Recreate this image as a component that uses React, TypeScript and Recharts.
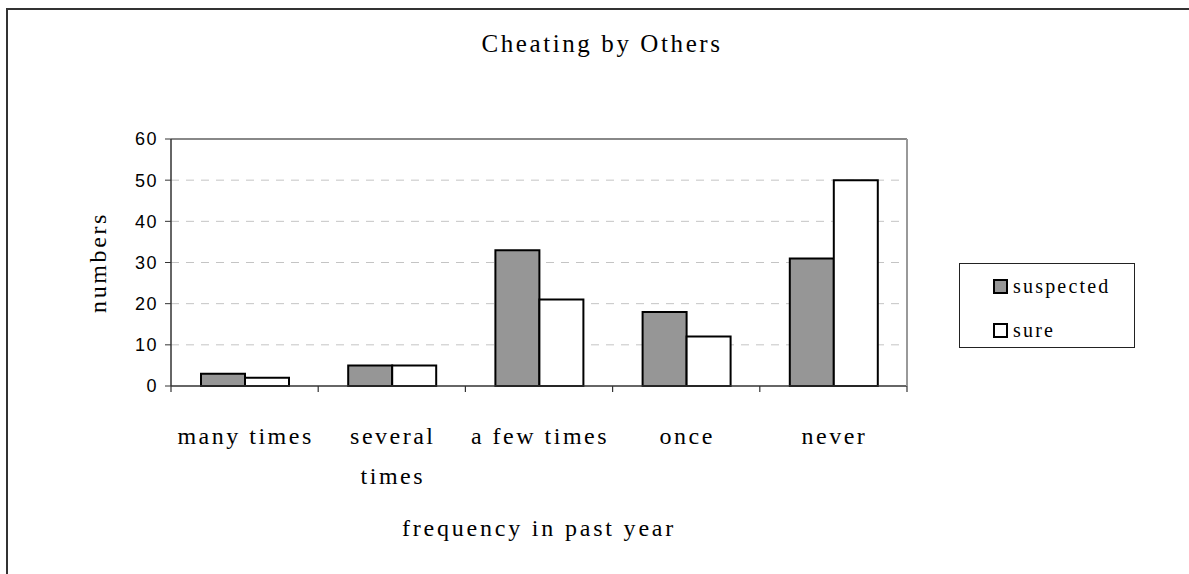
import {
  Bar,
  BarChart,
  CartesianGrid,
  Legend,
  ReferenceLine,
  XAxis,
  YAxis,
} from "recharts";

// Datos.
const CATEGORIES = ["many times", "several\ntimes", "a few times", "once", "never"];
const SERIES = ["suspected", "sure"];
const SUSPECTED = [3, 5, 33, 18, 31];
const SURE = [2, 5, 21, 12, 50];
const Y_TICKS = [0, 10, 20, 30, 40, 50, 60];

const data = CATEGORIES.map((name, i) => ({
  name,
  suspected: SUSPECTED[i],
  sure: SURE[i],
}));

const SERIF = "'Liberation Serif', 'Times New Roman', serif";
const SANS = "'Liberation Sans', Arial, sans-serif";

// Etiqueta de categoria con salto de linea y marcas en los limites de cada categoria (estilo Excel).
function CategoryTick({ x, y, payload, index, visibleTicksCount }: any) {
  const lines = String(payload.value).split("\n");
  const half = payload.offset || 0;
  const isLast = index === visibleTicksCount - 1;
  return (
    <g>
      <line x1={x - half} x2={x - half} y1={y} y2={y + 6} stroke="#333" strokeWidth={1.2} />
      {isLast && (
        <line x1={x + half} x2={x + half} y1={y} y2={y + 6} stroke="#333" strokeWidth={1.2} />
      )}
      <text
        x={x}
        y={y}
        textAnchor="middle"
        fill="#000"
        style={{ fontFamily: SERIF, fontSize: 24, letterSpacing: 2.5 }}
      >
        {lines.map((line, i) => (
          <tspan key={i} x={x + 1} dy={i === 0 ? 58 : 40}>
            {line}
          </tspan>
        ))}
      </text>
    </g>
  );
}

function LegendBox({ payload }: any) {
  // la leyenda de recharts ordena por nombre; se respeta el orden de las series
  const items = [...(payload || [])].sort(
    (a: any, b: any) => SERIES.indexOf(a.dataKey) - SERIES.indexOf(b.dataKey)
  );
  return (
    <div
      style={{
        border: "1px solid #222",
        width: 176,
        height: 85,
        boxSizing: "border-box",
        paddingTop: 0,
        paddingLeft: 33,
        background: "#fff",
      }}
    >
      {items.map((item: any) => (
        <div key={item.value} style={{ display: "flex", alignItems: "center", height: 44 }}>
          <span
            style={{
              display: "inline-block",
              width: 11,
              height: 11,
              border: "2px solid #000",
              background: item.payload.fill,
              marginRight: 5,
            }}
          />
          <span style={{ fontFamily: SERIF, fontSize: 20, letterSpacing: 2.2, color: "#000" }}>
            {item.value}
          </span>
        </div>
      ))}
    </div>
  );
}

export default function App() {
  return (
    <div
      style={{
        position: "fixed",
        left: 0,
        top: 0,
        width: 1189,
        height: 574,
        overflow: "hidden",
        background: "#fff",
      }}
    >
      {/* marco exterior del grafico, se sale por la derecha y abajo */}
      <div
        style={{
          position: "absolute",
          left: 6,
          top: 8,
          width: 1300,
          height: 700,
          border: "2px solid #333",
        }}
      />
      <div
        style={{
          position: "absolute",
          left: 0,
          top: 30,
          width: 1204,
          textAlign: "center",
          fontFamily: SERIF,
          fontSize: 25,
          letterSpacing: 2.6,
          lineHeight: "28px",
          color: "#000",
        }}
      >
        Cheating by Others
      </div>
      <div style={{ position: "absolute", left: 0, top: 0 }}>
        <BarChart
          width={1189}
          height={574}
          data={data}
          margin={{ top: 139, right: 281, bottom: 102, left: 91 }}
          barCategoryGap={30}
          barGap={0}
        >
          <CartesianGrid
            vertical={false}
            horizontalValues={[10, 20, 30, 40, 50]}
            stroke="#c4c4c4"
            strokeDasharray="8 7"
          />
          <XAxis
            dataKey="name"
            height={1}
            tickLine={false}
            tickSize={0}
            tickMargin={0}
            interval={0}
            axisLine={{ stroke: "#333", strokeWidth: 1.5 }}
            tick={<CategoryTick />}
            label={{
              value: "frequency in past year",
              position: "bottom",
              offset: 132,
              style: { fontFamily: SERIF, fontSize: 24, letterSpacing: 2.8, fill: "#000" },
            }}
          />
          <YAxis
            width={80}
            domain={[0, 60]}
            ticks={Y_TICKS}
            interval={0}
            tickSize={6}
            tickMargin={7}
            axisLine={{ stroke: "#333", strokeWidth: 1.5 }}
            tickLine={{ stroke: "#333" }}
            tick={{ fontFamily: SANS, fontSize: 18, letterSpacing: 1.5, fill: "#000" }}
            label={{
              value: "numbers",
              angle: -90,
              position: "insideLeft",
              offset: 6,
              style: {
                textAnchor: "middle",
                fontFamily: SERIF,
                fontSize: 24,
                letterSpacing: 2.6,
                fill: "#000",
              },
            }}
          />
          {/* borde derecho gris del area de trazado */}
          <YAxis
            yAxisId="r"
            orientation="right"
            width={1}
            domain={[0, 60]}
            tick={false}
            tickLine={false}
            axisLine={{ stroke: "#999", strokeWidth: 2 }}
          />
          <ReferenceLine y={60} stroke="#888" strokeWidth={2} />
          <Legend
            content={<LegendBox />}
            wrapperStyle={{ left: 959, top: 263, width: 176, height: 85 }}
          />
          <Bar
            dataKey="suspected"
            fill="#969696"
            stroke="#000"
            strokeWidth={2}
            isAnimationActive={false}
          />
          <Bar
            dataKey="sure"
            fill="#fff"
            stroke="#000"
            strokeWidth={2}
            isAnimationActive={false}
          />
        </BarChart>
      </div>
    </div>
  );
}
